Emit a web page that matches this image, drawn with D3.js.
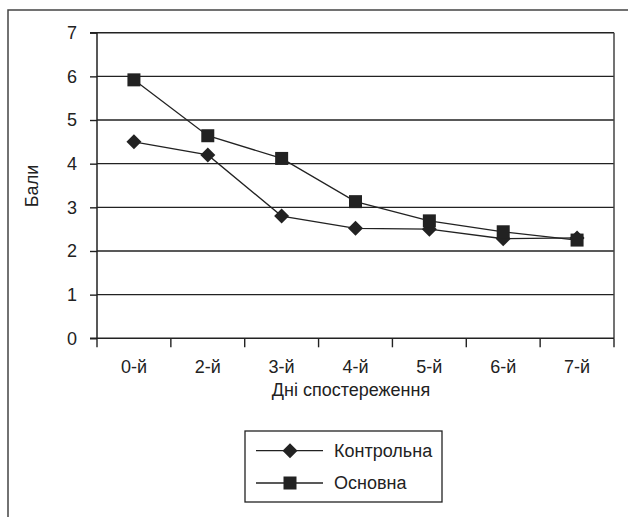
<!DOCTYPE html>
<html><head><meta charset="utf-8">
<script src="https://cdn.jsdelivr.net/npm/d3@7/dist/d3.min.js"></script>
<style>body{margin:0;background:#fff}svg{display:block}text{font-family:"Liberation Sans",Arial,sans-serif;fill:#222}</style>
</head><body><svg id="c" width="628" height="517"></svg>
<script>
const categories = ["0-й","2-й","3-й","4-й","5-й","6-й","7-й"];
const kontrolna = [4.5, 4.2, 2.8, 2.52, 2.5, 2.28, 2.3];
const osnovna = [5.92, 4.64, 4.12, 3.13, 2.69, 2.44, 2.25];
const yTicks = [0,1,2,3,4,5,6,7];
const seriesNames = ["Контрольна","Основна"];

const FS = 18;
const svg = d3.select("#c");
const ink = "#222";
// outer frame
svg.append("path").attr("d","M8,520 L8,10 L630,10").attr("fill","none").attr("stroke","#444").attr("stroke-width",1.5);

const L=97, R=614, T=32.7, B=338.3;
const x = d3.scaleBand().domain(categories).range([L,R]);
const y = d3.scaleLinear().domain([0,7]).range([B,T]);

// gridlines
svg.append("g").selectAll("line").data(yTicks.filter(d=>d>0)).join("line")
  .attr("x1",L).attr("x2",R).attr("y1",d=>y(d)).attr("y2",d=>y(d))
  .attr("stroke",ink).attr("stroke-width",1.4);
// right border
svg.append("line").attr("x1",R).attr("x2",R).attr("y1",T).attr("y2",B).attr("stroke","#444").attr("stroke-width",1.5);

// y axis
const ya = svg.append("g").attr("transform",`translate(${L},0)`)
  .call(d3.axisLeft(y).tickValues(yTicks).tickSize(7).tickPadding(13).tickFormat(d3.format("d")));
ya.select(".domain").attr("stroke",ink).attr("stroke-width",1.5).attr("d",`M-7,${B}H0V${T}H-7`);
ya.selectAll(".tick line").attr("stroke",ink).attr("stroke-width",1.4);
ya.selectAll("text").attr("font-size",FS).attr("fill",ink).style("font-family","Liberation Sans, Arial, sans-serif");

// x axis
const xa = svg.append("g").attr("transform",`translate(0,${B})`)
  .call(d3.axisBottom(x).tickSize(0).tickPadding(22));
xa.select(".domain").attr("stroke",ink).attr("stroke-width",1.5).attr("d",`M${L},0H${R}`);
xa.selectAll("text").attr("font-size",FS).attr("fill",ink).style("font-family","Liberation Sans, Arial, sans-serif");
// boundary ticks
const bounds = categories.map(c=>x(c)).concat([R]);
svg.append("g").selectAll("line").data(bounds).join("line")
  .attr("x1",d=>d).attr("x2",d=>d).attr("y1",B).attr("y2",B+9)
  .attr("stroke",ink).attr("stroke-width",1.4);

// titles
svg.append("text").attr("transform","translate(38,186) rotate(-90)").attr("text-anchor","middle")
  .attr("font-size",FS).text("Бали");
svg.append("text").attr("x",351).attr("y",396).attr("text-anchor","middle").attr("font-size",FS).text("Дні спостереження");

const cx = c => x(c)+x.bandwidth()/2;
const line = d3.line().x((d,i)=>cx(categories[i])).y(d=>y(d));
function drawDiamond(g, px, py){
  const s=7.5;
  g.append("path").attr("d",`M${px},${py-s}L${px+s},${py}L${px},${py+s}L${px-s},${py}Z`).attr("fill",ink);
}
function drawSquare(g, px, py){
  const s=6.5;
  g.append("rect").attr("x",px-s).attr("y",py-s).attr("width",2*s).attr("height",2*s).attr("fill",ink);
}
const gK = svg.append("g"), gO = svg.append("g");
gK.append("path").attr("d",line(kontrolna)).attr("fill","none").attr("stroke",ink).attr("stroke-width",1.3);
gO.append("path").attr("d",line(osnovna)).attr("fill","none").attr("stroke",ink).attr("stroke-width",1.3);
kontrolna.forEach((v,i)=>drawDiamond(gK,cx(categories[i]),y(v)));
osnovna.forEach((v,i)=>drawSquare(gO,cx(categories[i]),y(v)));

// legend
const lg = svg.append("g");
lg.append("rect").attr("x",245).attr("y",431).attr("width",197).attr("height",71).attr("fill","#fff").attr("stroke",ink).attr("stroke-width",1.3);
const rows=[450.7,483];
rows.forEach((ry,i)=>{
  lg.append("line").attr("x1",256).attr("x2",323).attr("y1",ry).attr("y2",ry).attr("stroke",ink).attr("stroke-width",1.3);
  if(i===0) drawDiamond(lg,290,ry); else drawSquare(lg,290,ry);
  lg.append("text").attr("x",334).attr("y",ry+6).attr("font-size",FS).text(seriesNames[i]);
});
</script></body></html>
